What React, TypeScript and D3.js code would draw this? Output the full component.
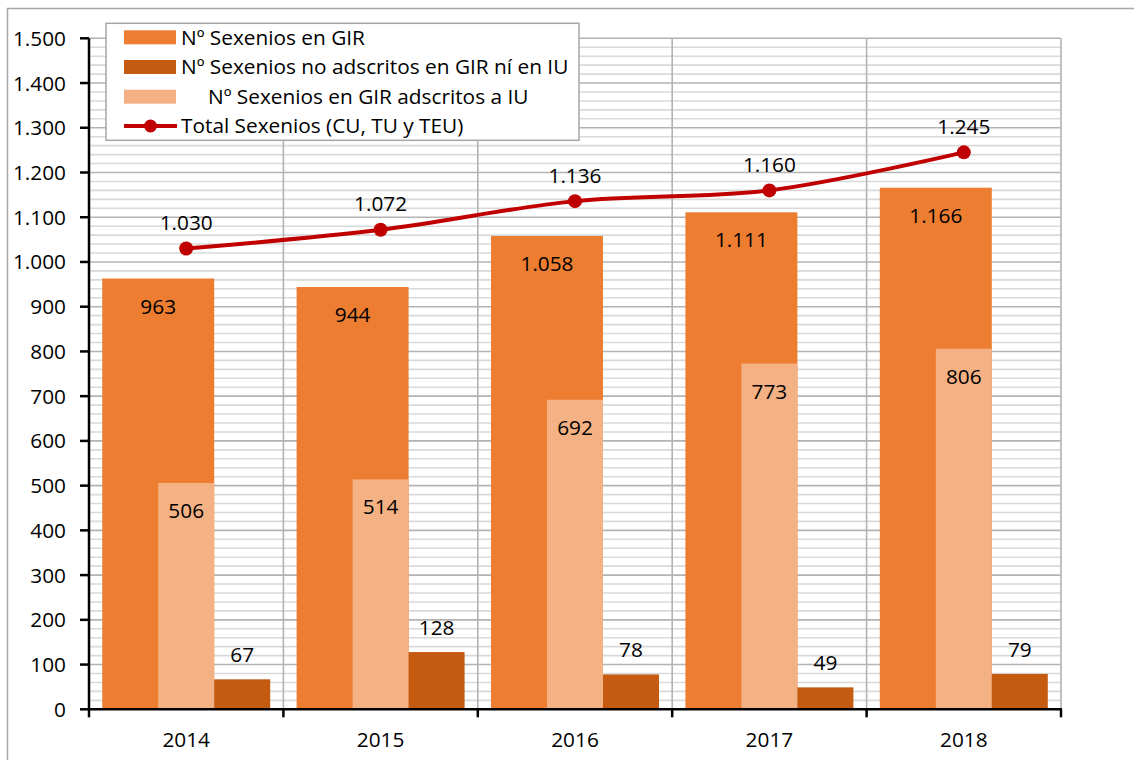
import React from "react";
import * as d3 from "d3";

const years = ["2014", "2015", "2016", "2017", "2018"];
const sexeniosGIR = [963, 944, 1058, 1111, 1166];
const sexeniosNoAdscritos = [67, 128, 78, 49, 79];
const sexeniosGIRIU = [506, 514, 692, 773, 806];
const totalSexenios = [1030, 1072, 1136, 1160, 1245];
const yTicks = [0, 100, 200, 300, 400, 500, 600, 700, 800, 900, 1000, 1100, 1200, 1300, 1400, 1500];
const legendLabels = [
  "Nº Sexenios en GIR",
  "Nº Sexenios no adscritos en GIR ní en IU",
  "Nº Sexenios en GIR adscritos a IU",
  "Total Sexenios (CU, TU y TEU)",
];

const C_GIR = "#ED7D31";
const C_NO = "#C55A11";
const C_IU = "#F4B183";
const C_LINE = "#C00000";
const FONT = "'Open Sans', Lato, sans-serif";
const FS = 20.8;

const fmt = d3.formatLocale({ decimal: ",", thousands: ".", grouping: [3], currency: ["", "€"] }).format(",d");

export default function App() {
  const W = 1134, H = 760;
  const left = 89, right = 1061, top = 38.3, bottom = 709.3;
  const x = d3.scaleBand<string>().domain(years).range([left, right]).paddingInner(0).paddingOuter(0);
  const y = d3.scaleLinear().domain([0, 1500]).range([bottom, top]);
  const sub = d3.scaleBand<string>().domain(["0", "1", "2"]).range([0, x.bandwidth()]).paddingInner(0).paddingOuter(0.236);
  const sw = sub.bandwidth();

  const minor = d3.range(20, 1500, 20).filter((v) => v % 100 !== 0);
  const major = yTicks.filter((v) => v > 0 && v < 1500);
  const boundaries = years.map((yr) => x(yr)!).concat([right]);

  const pts: [number, number][] = years.map((yr, i) => [x(yr)! + x.bandwidth() / 2, y(totalSexenios[i])]);
  const line = d3.line().curve(d3.curveCatmullRom.alpha(0.5))(pts) || "";

  const lg = { x: 106, y: 23.3, w: 473, h: 117, rowY: [37.3, 67, 96.7, 126] };

  return (
    <svg width={W} height={H} style={{ position: "absolute", left: 0, top: 0, background: "#fff" }} fontFamily={FONT}>
      <rect x={0} y={0} width={W} height={H} fill="#fff" />
      {/* outer border */}
      <path d={`M7.5,${H + 2} V8.5 H${W + 2}`} fill="none" stroke="#A6A6A6" strokeWidth={1.5} />
      {/* minor grid */}
      {minor.map((v) => (
        <line key={"mi" + v} x1={left} x2={right} y1={y(v)} y2={y(v)} stroke="#D9D9D9" strokeWidth={1.6} />
      ))}
      {major.map((v) => (
        <line key={"ma" + v} x1={left} x2={right} y1={y(v)} y2={y(v)} stroke="#B3B3B3" strokeWidth={1.6} />
      ))}
      {boundaries.slice(1).map((bx, i) => (
        <line key={"vb" + i} x1={bx} x2={bx} y1={top} y2={bottom} stroke="#B3B3B3" strokeWidth={1.6} />
      ))}
      <line x1={left} x2={right} y1={top} y2={top} stroke="#B3B3B3" strokeWidth={1.6} />
      {/* bars */}
      {years.map((yr, i) => {
        const bx = x(yr)!;
        return (
          <g key={"b" + yr}>
            <rect x={bx + sub("0")!} y={y(sexeniosGIR[i])} width={2 * sw} height={bottom - y(sexeniosGIR[i])} fill={C_GIR} />
            <rect x={bx + sub("1")!} y={y(sexeniosGIRIU[i])} width={sw} height={bottom - y(sexeniosGIRIU[i])} fill={C_IU} />
            <rect x={bx + sub("2")!} y={y(sexeniosNoAdscritos[i])} width={sw} height={bottom - y(sexeniosNoAdscritos[i])} fill={C_NO} />
          </g>
        );
      })}
      {/* axes */}
      <line x1={left} x2={left} y1={top} y2={bottom + 1} stroke="#000" strokeWidth={2.5} />
      <line x1={left - 1} x2={right + 1} y1={bottom} y2={bottom} stroke="#000" strokeWidth={2.5} />
      {yTicks.map((v) => (
        <g key={"yt" + v}>
          <line x1={left - 9} x2={left} y1={y(v)} y2={y(v)} stroke="#000" strokeWidth={2.5} />
          <text x={66} y={y(v)} dy="0.36em" textAnchor="end" fontSize={FS} fill="#000">
            {fmt(v)}
          </text>
        </g>
      ))}
      {boundaries.map((bx, i) => (
        <line key={"xt" + i} x1={bx} x2={bx} y1={bottom} y2={bottom + 8} stroke="#000" strokeWidth={2.5} />
      ))}
      {years.map((yr) => (
        <text key={"xl" + yr} x={x(yr)! + x.bandwidth() / 2} y={747} textAnchor="middle" fontSize={FS} fill="#000">
          {yr}
        </text>
      ))}
      {/* bar labels */}
      {years.map((yr, i) => {
        const bx = x(yr)!;
        return (
          <g key={"l" + yr} fontSize={FS} fill="#000" textAnchor="middle">
            <text x={bx + sub("0")! + sw} y={y(sexeniosGIR[i]) + 35}>{fmt(sexeniosGIR[i])}</text>
            <text x={bx + sub("1")! + sw / 2} y={y(sexeniosGIRIU[i]) + 35}>{fmt(sexeniosGIRIU[i])}</text>
            <text x={bx + sub("2")! + sw / 2} y={y(sexeniosNoAdscritos[i]) - 17}>{fmt(sexeniosNoAdscritos[i])}</text>
          </g>
        );
      })}
      {/* line */}
      <path d={line} fill="none" stroke={C_LINE} strokeWidth={4} />
      {pts.map((p, i) => (
        <circle key={"c" + i} cx={p[0]} cy={p[1]} r={7} fill={C_LINE} />
      ))}
      {pts.map((p, i) => (
        <text key={"tl" + i} x={p[0]} y={p[1] - 18.5} textAnchor="middle" fontSize={FS} fill="#000">
          {fmt(totalSexenios[i])}
        </text>
      ))}
      {/* legend */}
      <rect x={lg.x} y={lg.y} width={lg.w} height={lg.h} fill="#fff" stroke="#A6A6A6" strokeWidth={1.5} />
      {[C_GIR, C_NO, C_IU].map((c, i) => (
        <rect key={"ls" + i} x={124} y={lg.rowY[i] - 7} width={52} height={14} fill={c} />
      ))}
      <line x1={124} x2={177} y1={lg.rowY[3]} y2={lg.rowY[3]} stroke={C_LINE} strokeWidth={4} />
      <circle cx={150.5} cy={lg.rowY[3]} r={6.5} fill={C_LINE} />
      {legendLabels.map((t, i) => (
        <text key={"lt" + i} x={i === 2 ? 208 : 181} y={lg.rowY[i]} dy="0.36em" fontSize={FS} fill="#000">
          {t}
        </text>
      ))}
    </svg>
  );
}
